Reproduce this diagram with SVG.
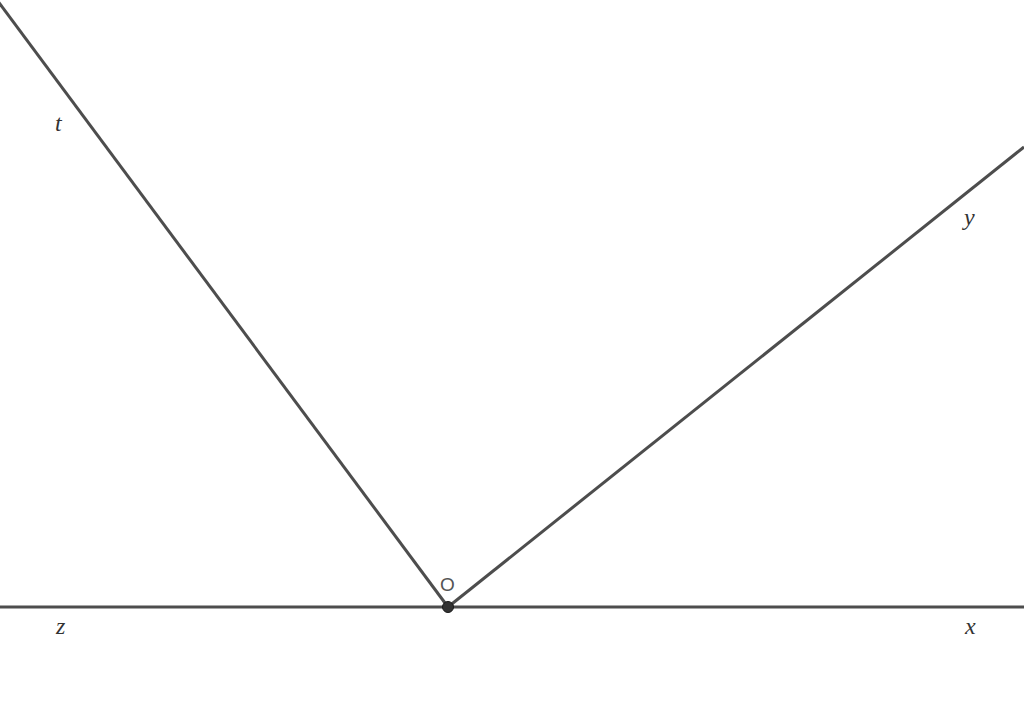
<svg xmlns="http://www.w3.org/2000/svg" width="1024" height="716" viewBox="0 0 1024 716">
<style>
.ln{stroke:#4d4d4d;stroke-width:3;fill:none;stroke-linecap:butt}
.lbl{font-family:"Liberation Serif","DejaVu Serif",serif;font-style:italic;font-size:24px;fill:#333}
.pt{font-family:"Liberation Sans","DejaVu Sans",sans-serif;font-size:19px;fill:#555}
</style>
<rect width="1024" height="716" fill="#ffffff"/>
<g id="connectors">
<line class="ln" x1="0" y1="607" x2="1024" y2="607"/>
<line class="ln" x1="448" y1="607" x2="-3" y2="0"/>
<line class="ln" x1="448" y1="607" x2="1024" y2="147"/>
</g>
<g id="node-O">
<circle cx="448" cy="607" r="5.5" fill="#333333" stroke="#1a1a1a" stroke-width="1"/>
<text class="pt" x="440" y="591">O</text>
</g>
<g id="label-t"><text class="lbl" x="55" y="131">t</text></g>
<g id="label-y"><text class="lbl" x="964" y="225">y</text></g>
<g id="label-z"><text class="lbl" x="56" y="634">z</text></g>
<g id="label-x"><text class="lbl" x="965" y="634">x</text></g>
</svg>
